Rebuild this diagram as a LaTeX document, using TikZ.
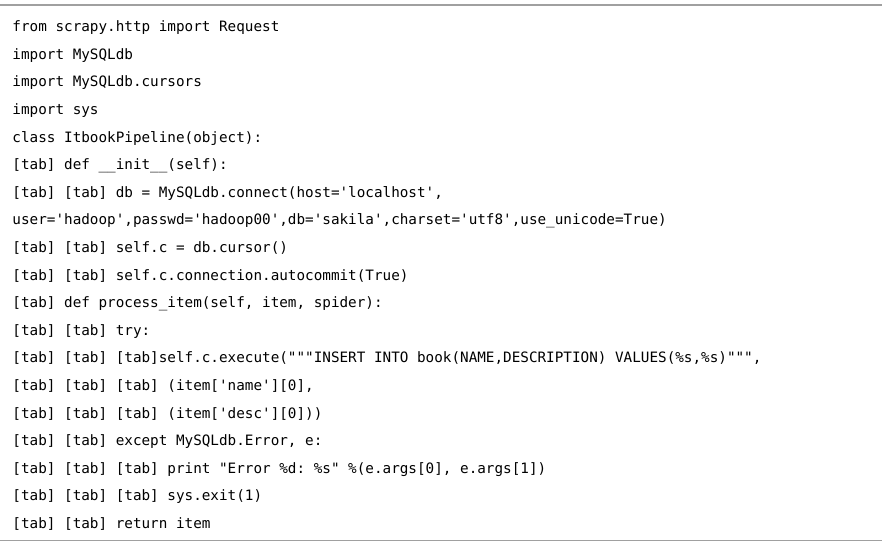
\documentclass[tikz,border=0pt]{standalone}
\usepackage{fontspec}
\setmonofont{DejaVu Sans Mono}
\definecolor{rulegray}{RGB}{160,160,160}
\tikzset{
  codeline/.style={anchor=base west, inner sep=0pt, outer sep=0pt, font=\ttfamily\fontsize{14.3}{16}\selectfont\frenchspacing, text=black},
  rulethick/.style={draw=rulegray, line width=2pt},
  rulethin/.style={draw=rulegray, line width=1pt}
}
\begin{document}
\begin{tikzpicture}[x=1pt,y=-1pt]
\useasboundingbox[fill=white] (0,0) rectangle (885,546);
\draw[rulethick] (0,5) -- (882,5);
\draw[rulethin] (0,540) -- (882,540);
\def\lx{12.5}
\node[codeline] (l1)  at (\lx,31.7)  {from scrapy.http import Request};
\node[codeline] (l2)  at (\lx,59.3)  {import MySQLdb};
\node[codeline] (l3)  at (\lx,86.9)  {import MySQLdb.cursors};
\node[codeline] (l4)  at (\lx,114.5) {import sys};
\node[codeline] (l5)  at (\lx,142.1) {class ItbookPipeline(object):};
\node[codeline] (l6)  at (\lx,169.7) {[tab] def \_\_init\_\_(self):};
\node[codeline] (l7)  at (\lx,197.3) {[tab] [tab] db = MySQLdb.connect(host='localhost',};
\node[codeline] (l8)  at (\lx,224.9) {user='hadoop',passwd='hadoop00',db='sakila',charset='utf8',use\_unicode=True)};
\node[codeline] (l9)  at (\lx,252.5) {[tab] [tab] self.c = db.cursor()};
\node[codeline] (l10) at (\lx,280.1) {[tab] [tab] self.c.connection.autocommit(True)};
\node[codeline] (l11) at (\lx,307.7) {[tab] def process\_item(self, item, spider):};
\node[codeline] (l12) at (\lx,335.3) {[tab] [tab] try:};
\node[codeline] (l13) at (\lx,362.9) {[tab] [tab] [tab]self.c.execute("""INSERT INTO book(NAME,DESCRIPTION) VALUES(\%s,\%s)""",};
\node[codeline] (l14) at (\lx,390.5) {[tab] [tab] [tab] (item['name'][0],};
\node[codeline] (l15) at (\lx,418.1) {[tab] [tab] [tab] (item['desc'][0]))};
\node[codeline] (l16) at (\lx,445.7) {[tab] [tab] except MySQLdb.Error, e:};
\node[codeline] (l17) at (\lx,473.3) {[tab] [tab] [tab] print "Error \%d: \%s" \%(e.args[0], e.args[1])};
\node[codeline] (l18) at (\lx,500.9) {[tab] [tab] [tab] sys.exit(1)};
\node[codeline] (l19) at (\lx,528.5) {[tab] [tab] return item};
\end{tikzpicture}
\end{document}
